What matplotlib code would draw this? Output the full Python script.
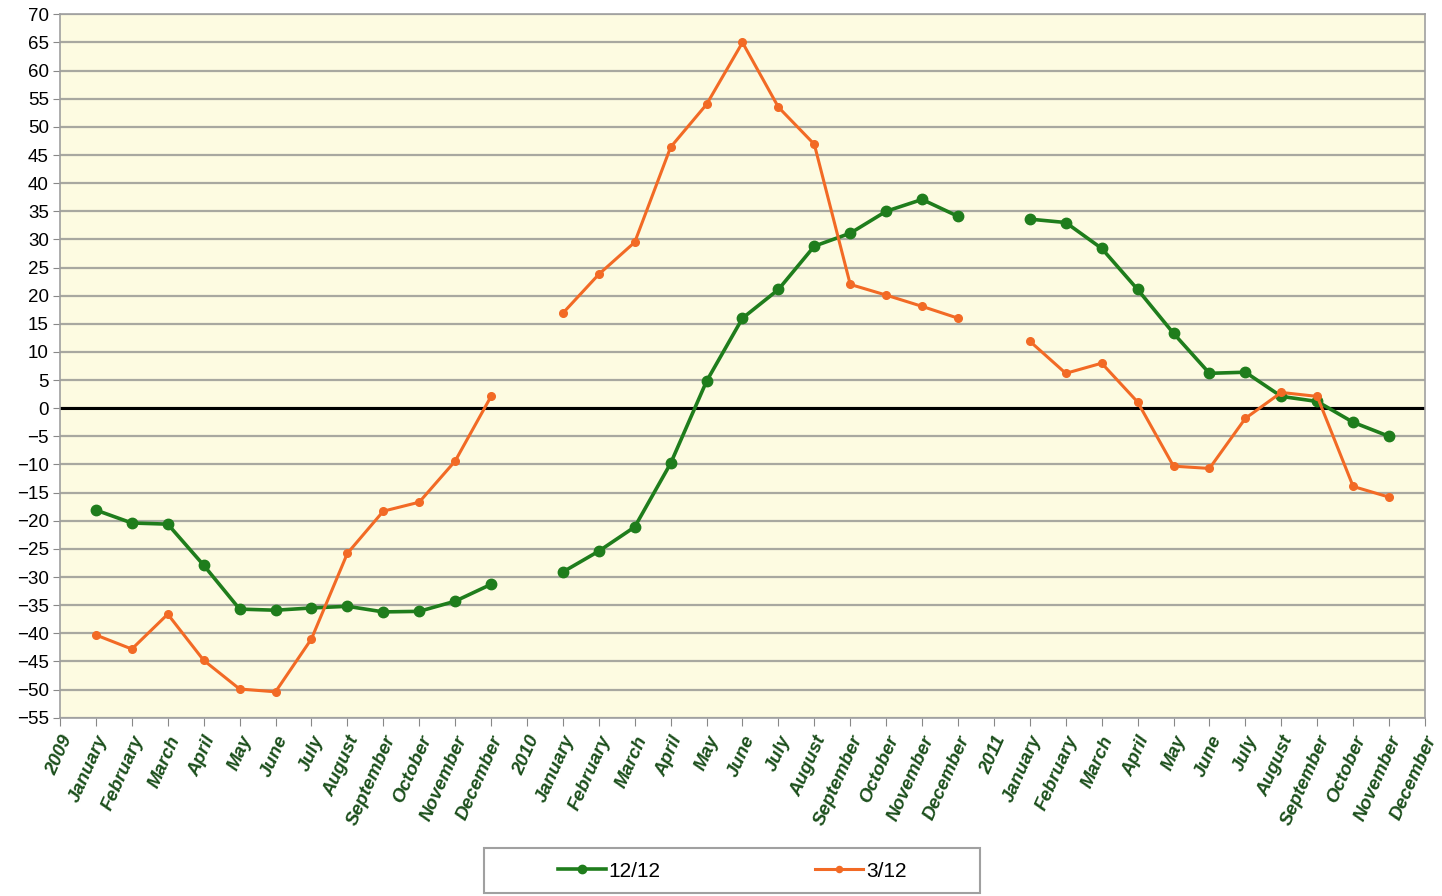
import matplotlib.pyplot as plt
from matplotlib.patches import Rectangle
import numpy as np

months = ["January", "February", "March", "April", "May", "June", "July",
          "August", "September", "October", "November", "December"]
labels = ["2009"] + months + ["2010"] + months + ["2011"] + months

# 12/12 change, by year (2011 December missing)
g_2009 = [-18.1, -20.4, -20.6, -27.9, -35.7, -35.9, -35.5, -35.2, -36.2, -36.1, -34.3, -31.3]
g_2010 = [-29.1, -25.4, -21.1, -9.8, 4.8, 16.0, 21.1, 28.8, 31.1, 35.0, 37.1, 34.1]
g_2011 = [33.6, 33.0, 28.4, 21.1, 13.3, 6.2, 6.4, 2.1, 1.2, -2.5, -5.0]

# 3/12 change
o_2009 = [-40.3, -42.8, -36.6, -44.8, -49.9, -50.4, -41.0, -25.8, -18.3, -16.7, -9.4, 2.1]
o_2010 = [16.9, 23.8, 29.5, 46.4, 54.0, 65.0, 53.5, 46.9, 22.0, 20.1, 18.1, 16.0]
o_2011 = [11.9, 6.2, 8.0, 1.1, -10.3, -10.7, -1.8, 2.8, 2.1, -13.9, -15.8]


def series(a, b, c):
    # year label slots stay empty so the line breaks there
    vals = [np.nan] + a + [np.nan] + b + [np.nan] + c
    vals += [np.nan] * (len(labels) - len(vals))
    return np.array(vals, dtype=float)


green = series(g_2009, g_2010, g_2011)
orange = series(o_2009, o_2010, o_2011)
x = np.arange(len(labels))

plt.rcParams["font.family"] = ["Liberation Sans", "DejaVu Sans"]

fig = plt.figure(figsize=(14.42, 8.96), dpi=100)
ax = fig.add_axes([0.0416, 0.199, 0.9466, 0.785])
ax.set_facecolor("#fdfbe1")

ax.plot(x, green, color="#1f7d1c", lw=2.6, marker="o", ms=7.5, label="12/12", zorder=3)
ax.plot(x, orange, color="#f26a25", lw=2.2, marker="o", ms=5.5, label="3/12", zorder=3)
ax.axhline(0, color="black", lw=2.2, zorder=2)

ax.set_xlim(0, len(labels) - 1)
ax.set_ylim(-55, 70)
ax.set_yticks(np.arange(-55, 71, 5))
ax.yaxis.grid(True, color="#a8a8a0", lw=1.6)
ax.set_axisbelow(True)
ax.set_xticks(x)
ax.set_xticklabels(labels, rotation=66, ha="right", rotation_mode="anchor",
                   fontsize=13.5, fontweight="bold", fontstyle="italic", color="#1c4f1c")
ax.tick_params(axis="y", labelsize=13.5, length=5, color="#888888", pad=3)
ax.tick_params(axis="x", length=6, color="#888888", pad=5)
for s in ax.spines.values():
    s.set_color("#a0a0a0")
    s.set_linewidth(1.2)

# legend box
fig.patches.append(Rectangle((484 / 1442, 3 / 896), 496 / 1442, 45 / 896,
                             transform=fig.transFigure, fill=False,
                             edgecolor="#a0a0a0", lw=1.5))
fig.legend(loc="center", bbox_to_anchor=(732 / 1442, 25 / 896), ncol=2,
           frameon=False, fontsize=15, handlelength=2.3, handletextpad=0.15,
           columnspacing=7.4, markerscale=0.8)

fig.savefig("out.png", dpi=100)
